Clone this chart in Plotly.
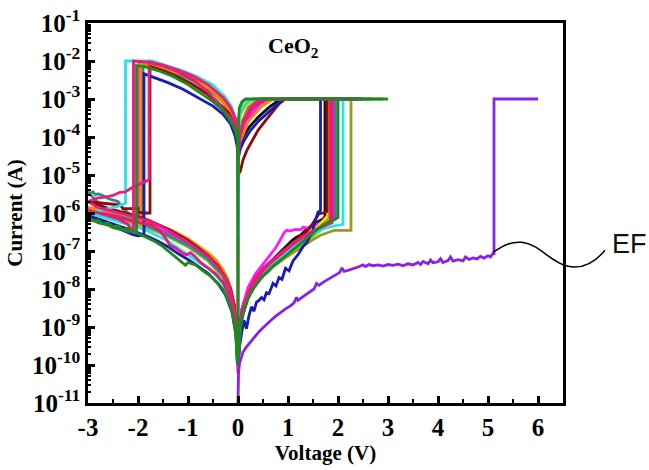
import plotly.graph_objects as go

# ---------------- data: (voltage V, current A) ----------------
black = [(0.0,1e-10),(0.03,8e-10),(0.08,3e-9),(0.15,6e-9),(0.3,1.5e-8),(0.45,2.8e-8),(0.6,4.5e-8),(0.75,7e-8),(0.9,1.1e-7),(1.0,1.4e-7),(1.1,2e-7),(1.17,2.3e-7),(1.25,2.6e-7),(1.35,3.5e-7),(1.45,4.5e-7),(1.55,5.5e-7),(1.7,7e-7),(1.74,8e-7),
         (1.74,1e-3),(2.3,1e-3),(0.85,1e-3),(0.62,6e-4),(0.4,3.3e-4),(0.22,1.8e-4),(0.1,1e-4),(0.03,6e-5),
         (-0.02,1.3e-4),(-0.1,3.5e-4),(-0.3,9e-4),(-0.6,2e-3),(-1.0,3.8e-3),(-1.4,5.8e-3),(-1.8,7.6e-3),(-1.92,8e-3),
         (-1.92,5e-7),(-2.3,7e-7),(-2.7,1e-6),(-3.0,1.2e-6),(-2.6,8.5e-7),(-2.2,6.3e-7),(-1.8,4.6e-7),(-1.4,2.9e-7),(-1.0,1.5e-7),(-0.7,8e-8),(-0.4,3.6e-8),(-0.2,1.5e-8),(-0.08,4e-9),(-0.02,6e-10),(0.0,1e-10)]

magenta = [(0.0,1e-10),(0.03,1e-9),(0.08,3e-9),(0.2,1.1e-8),(0.35,2.5e-8),(0.5,4.5e-8),(0.65,8e-8),(0.75,1.2e-7),(0.85,2e-7),(0.92,3e-7),(0.97,3.5e-7),(1.05,3.4e-7),(1.15,3.7e-7),(1.25,3.6e-7),(1.3,4.2e-7),(1.4,4e-7),(1.5,4.6e-7),(1.6,5e-7),(1.7,5.6e-7),(1.8,6.2e-7),(1.91,7e-7),
           (1.91,1e-3),(2.7,1e-3),(0.65,1e-3),(0.45,7.6e-4),(0.28,4.2e-4),(0.15,2.5e-4),(0.08,1.3e-4),(0.03,5.5e-5),(0.01,4e-5),
           (-0.02,1.5e-4),(-0.1,4e-4),(-0.3,1e-3),(-0.6,2.2e-3),(-1.0,4e-3),(-1.4,6e-3),(-1.8,8e-3),(-1.98,8.5e-3),
           (-1.98,6e-7),(-2.3,8e-7),(-2.7,1.1e-6),(-3.0,1.3e-6),(-2.6,9.5e-7),(-2.2,7e-7),(-1.8,5e-7),(-1.4,3e-7),(-1.0,1.6e-7),(-0.7,8e-8),(-0.4,3.5e-8),(-0.2,1.4e-8),(-0.08,4e-9),(-0.02,5e-10),(0.0,1e-10)]

yellow = [(0.0,1e-10),(0.04,8e-10),(0.1,2.5e-9),(0.17,6e-9),(0.3,1.2e-8),(0.45,2e-8),(0.6,3e-8),(0.75,4.5e-8),(0.9,6.5e-8),(1.05,1e-7),(1.2,1.5e-7),(1.35,2.2e-7),(1.5,3.2e-7),(1.6,4.5e-7),(1.7,6.5e-7),(1.78,8e-7),(1.86,9e-7),
          (1.86,1e-3),(2.3,1e-3),(0.5,1e-3),(0.35,7e-4),(0.2,4e-4),(0.08,2e-4),(0.02,8e-5),
          (-0.02,1.2e-4),(-0.1,3e-4),(-0.3,8e-4),(-0.6,1.8e-3),(-1.0,3.5e-3),(-1.4,5.4e-3),(-1.8,7.2e-3),(-1.9,7.5e-3),
          (-1.9,5e-7),(-2.4,7e-7),(-3.0,1e-6),(-2.5,7.5e-7),(-2.0,5e-7),(-1.5,2.8e-7),(-1.0,1.3e-7),(-0.6,5.5e-8),(-0.3,2e-8),(-0.12,6e-9),(-0.03,8e-10),(0.0,1e-10)]

olive = [(0.0,1e-10),(0.05,1.2e-9),(0.15,4.5e-9),(0.3,1.1e-8),(0.5,2.2e-8),(0.7,3.8e-8),(0.9,6e-8),(1.1,9e-8),(1.3,1.4e-7),(1.5,2e-7),(1.65,2.6e-7),(1.78,3e-7),(1.86,3.3e-7),(1.92,3.5e-7),(2.1,3.5e-7),(2.26,3.5e-7),
         (2.26,1e-3),(2.9,1e-3),(0.4,1e-3),(0.2,6e-4),(0.08,2.5e-4),(0.02,8e-5),
         (-0.02,1.2e-4),(-0.1,3.2e-4),(-0.3,8.5e-4),(-0.6,1.9e-3),(-1.0,3.6e-3),(-1.4,5.5e-3),(-1.8,7.3e-3),(-1.95,7.8e-3),
         (-1.95,5e-7),(-2.4,7e-7),(-3.0,1e-6),(-2.5,7.5e-7),(-2.0,5e-7),(-1.5,2.8e-7),(-1.0,1.3e-7),(-0.6,5.5e-8),(-0.3,2e-8),(-0.12,6e-9),(-0.03,8e-10),(0.0,1e-10)]

lime = [(0.0,1e-10),(0.05,1.2e-9),(0.15,4.5e-9),(0.3,1.2e-8),(0.5,2.5e-8),(0.7,4.2e-8),(0.9,6.5e-8),(1.1,1e-7),(1.3,1.6e-7),(1.5,2.5e-7),(1.7,4e-7),(1.84,6e-7),
        (1.84,1e-3),(2.2,1e-3),(0.3,1e-3),(0.15,7e-4),(0.05,4e-4),(0.01,2e-4),
        (-0.02,1.4e-4),(-0.1,4e-4),(-0.3,1e-3),(-0.7,2.5e-3),(-1.2,4.8e-3),(-1.7,7e-3),(-1.93,7.8e-3),
        (-1.93,5e-7),(-2.4,7e-7),(-3.0,1e-6),(-2.5,7.5e-7),(-2.0,5e-7),(-1.5,2.8e-7),(-1.0,1.3e-7),(-0.6,5.5e-8),(-0.3,2e-8),(-0.12,6e-9),(-0.03,8e-10),(0.0,1e-10)]

teal = [(0.0,1e-10),(0.05,1.2e-9),(0.2,6e-9),(0.5,2.5e-8),(0.9,7e-8),(1.3,1.7e-7),(1.6,3.5e-7),(1.95,7e-7),
        (1.95,1e-3),(2.4,1e-3),(0.5,1e-3),(0.25,5e-4),(0.08,2e-4),(0.02,8e-5),
        (-0.02,1.3e-4),(-0.1,3.5e-4),(-0.3,9e-4),(-0.7,2.3e-3),(-1.2,4.6e-3),(-1.7,6.8e-3),(-1.9,7.5e-3),
        (-1.9,5.5e-7),(-2.1,8e-7),(-2.3,1.3e-6),(-2.4,2e-6),(-2.5,2.2e-6),(-2.6,2.4e-6),(-2.7,2.9e-6),(-2.8,3.2e-6),(-2.85,3e-6),(-2.9,3.6e-6),(-2.95,3.3e-6),(-3.0,3.6e-6),
        (-2.95,3e-6),(-2.85,2.2e-6),(-2.7,1.5e-6),(-2.5,1.1e-6),(-2.3,8e-7),(-2.0,5.8e-7),(-1.5,3e-7),(-1.0,1.4e-7),(-0.6,6e-8),(-0.3,2.3e-8),(-0.12,6e-9),(-0.03,8e-10),(0.0,1e-10)]

orange = [(0.0,1e-10),(0.05,1.4e-9),(0.2,6e-9),(0.5,2.8e-8),(0.9,8e-8),(1.3,2e-7),(1.6,4e-7),(1.82,7e-7),
          (1.82,1e-3),(2.3,1e-3),(0.7,1e-3),(0.45,6e-4),(0.2,2.5e-4),(0.05,8e-5),
          (-0.02,1.3e-4),(-0.1,3.5e-4),(-0.3,9e-4),(-0.6,2e-3),(-1.0,3.9e-3),(-1.4,6e-3),(-1.75,7.8e-3),(-1.95,8.5e-3),
          (-1.95,5e-7),(-2.2,6e-7),(-2.5,8e-7),(-2.8,1.1e-6),(-3.0,1.4e-6),
          (-2.8,1.3e-6),(-2.5,1.05e-6),(-2.2,8.5e-7),(-1.9,6.5e-7),(-1.6,4.8e-7),(-1.3,3.4e-7),(-1.0,2.1e-7),(-0.8,1.4e-7),(-0.6,9e-8),(-0.45,6e-8),(-0.3,3.2e-8),(-0.2,1.8e-8),(-0.12,8e-9),(-0.06,2.5e-9),(-0.02,5e-10),(0.0,1e-10)]

maroon = [(0.0,1e-10),(0.02,4e-10),(0.05,1.5e-9),(0.1,3e-9),(0.17,5e-9),(0.25,9e-9),(0.37,1.7e-8),(0.5,2.6e-8),(0.64,4.2e-8),(0.8,6.5e-8),(0.97,1.05e-7),(1.1,1.5e-7),(1.2,2.2e-7),(1.3,2.8e-7),(1.4,3.5e-7),(1.48,5e-7),(1.55,7e-7),(1.62,9.5e-7),(1.7,1e-6),(1.78,1.1e-6),
          (1.78,1e-3),(2.5,1e-3),(0.95,1e-3),(0.82,7.4e-4),(0.68,4.5e-4),(0.55,2.7e-4),(0.4,1.5e-4),(0.28,8e-5),(0.18,4.5e-5),(0.1,2.5e-5),(0.05,1.3e-5),(0.0,1e-5),
          (-0.02,1.2e-4),(-0.08,2.5e-4),(-0.2,4.5e-4),(-0.4,8e-4),(-0.6,1.3e-3),(-0.9,2.4e-3),(-1.2,3.8e-3),(-1.5,5.6e-3),(-1.76,7.2e-3),
          (-1.76,1e-6),(-1.9,1e-6),(-2.0,1.05e-6),(-2.0,1.3e-6),(-2.3,1.3e-6),(-2.35,1.6e-6),(-2.5,1.7e-6),(-2.7,1.8e-6),(-2.85,1.9e-6),(-3.0,2e-6),
          (-2.8,1.6e-6),(-2.6,1.35e-6),(-2.4,1.15e-6),(-2.2,9.5e-7),(-2.0,8e-7),(-1.8,6.5e-7),(-1.6,5e-7),(-1.4,3.8e-7),(-1.2,2.7e-7),(-1.0,1.9e-7),(-0.8,1.2e-7),(-0.6,7.5e-8),(-0.4,4e-8),(-0.25,2e-8),(-0.15,1e-8),(-0.07,3.5e-9),(-0.02,6e-10),(0.0,1e-10)]

cyan = [(0.0,1e-10),(0.03,6e-10),(0.1,2.5e-9),(0.2,7e-9),(0.35,1.6e-8),(0.5,2.8e-8),(0.7,5e-8),(0.9,8e-8),(1.1,1.3e-7),(1.3,2e-7),(1.5,2.9e-7),(1.7,3.8e-7),(1.9,4.5e-7),(2.1,5e-7),
        (2.1,1e-3),(2.6,1e-3),(0.3,1e-3),(0.1,8e-4),(0.03,4e-4),(0.01,1.5e-4),(0.0,1e-5),(0.0,2e-7),
        (-0.01,1.2e-4),(-0.05,3e-4),(-0.12,6e-4),(-0.25,1.1e-3),(-0.5,2.3e-3),(-0.8,3.8e-3),(-1.1,5.5e-3),(-1.4,7.2e-3),(-1.6,8.8e-3),(-1.72,1e-2),(-2.25,1e-2),
        (-2.25,1.8e-6),(-2.4,1.5e-6),(-2.6,1.3e-6),(-2.8,1.15e-6),(-3.0,1e-6),
        (-2.8,8.5e-7),(-2.6,7.2e-7),(-2.4,6e-7),(-2.2,5e-7),(-2.0,4.2e-7),(-1.8,3.3e-7),(-1.6,2.5e-7),(-1.4,1.8e-7),(-1.2,1.2e-7),(-1.0,8e-8),(-0.8,5.5e-8),(-0.6,3.5e-8),(-0.4,2e-8),(-0.25,1.1e-8),(-0.12,4e-9),(-0.05,1.2e-9),(-0.01,1e-10)]

blue = [(0.0,1e-10),(0.03,3e-10),(0.08,8e-10),(0.12,1.5e-9),(0.17,9e-10),(0.22,2e-9),(0.27,3.4e-9),(0.32,2.6e-9),(0.37,4.5e-9),(0.42,5e-9),(0.47,6e-9),(0.52,5.2e-9),(0.57,8e-9),(0.62,7.5e-9),(0.7,1.4e-8),(0.76,1.2e-8),(0.82,2e-8),(0.88,1.8e-8),(0.95,3.5e-8),(1.02,3e-8),(1.1,5.5e-8),(1.2,8e-8),(1.3,1.3e-7),(1.38,1.7e-7),(1.45,2.6e-7),(1.5,3.8e-7),(1.55,6.5e-7),(1.6,1.05e-6),(1.65,1.15e-6),
        (1.65,1e-3),(2.4,1e-3),(0.9,1e-3),(0.75,6.5e-4),(0.6,4.3e-4),(0.42,2.7e-4),(0.25,1.5e-4),(0.12,8e-5),(0.05,5e-5),(0.01,3e-5),
        (-0.02,6e-5),(-0.06,1.1e-4),(-0.15,2.2e-4),(-0.3,4e-4),(-0.5,6.5e-4),(-0.8,1.1e-3),(-1.1,1.8e-3),(-1.4,2.7e-3),(-1.7,3.8e-3),(-1.88,4.6e-3),
        (-1.88,2.6e-7),(-2.0,2.5e-7),(-2.1,2.7e-7),(-2.3,3.5e-7),(-2.5,4.6e-7),(-2.7,5.8e-7),(-2.85,7e-7),(-3.0,8.5e-7),
        (-2.8,7e-7),(-2.6,5.8e-7),(-2.4,4.8e-7),(-2.2,3.8e-7),(-2.0,3e-7),(-1.8,2.4e-7),(-1.6,1.8e-7),(-1.4,1.3e-7),(-1.2,8.5e-8),(-1.0,6e-8),(-0.8,4e-8),(-0.6,2.6e-8),(-0.4,1.4e-8),(-0.25,7e-9),(-0.12,2.5e-9),(-0.04,6e-10),(-0.01,1e-10)]

pink1 = [(0.0,2.2e-7),(0.0,6e-11),(0.03,6e-10),(0.1,3e-9),(0.2,8e-9),(0.35,2e-8),(0.5,3.5e-8),(0.7,6e-8),(0.9,1e-7),(1.1,1.6e-7),(1.3,2.4e-7),(1.5,3.4e-7),(1.7,4.5e-7),(1.88,5.5e-7),
         (1.88,1e-3),(2.5,1e-3),(0.55,1e-3),(0.3,6e-4),(0.12,2.5e-4),(0.04,1e-4),(0.0,2e-5),
         (-0.01,1.2e-4),(-0.05,2e-4),(-0.12,3e-4),(-0.22,4e-4),(-0.4,8e-4),(-0.6,1.5e-3),(-0.88,3.1e-3),(-1.2,5.2e-3),(-1.5,7.4e-3),(-1.82,9.4e-3),(-2.09,1e-2),
         (-2.09,3e-7),(-2.2,5e-7),(-2.4,7e-7),(-2.6,8.5e-7),(-2.8,1e-6),(-3.0,1.2e-6),
         (-2.8,1e-6),(-2.6,9e-7),(-2.4,8e-7),(-2.2,6.5e-7),(-2.0,5.8e-7),(-1.8,5e-7),(-1.7,4.6e-7),(-1.55,3.2e-7),(-1.45,2.2e-7),(-1.36,1.4e-7),(-1.25,1.2e-7),(-1.1,8.5e-8),(-1.03,8e-8),(-0.95,9e-8),(-0.85,7e-8),(-0.75,5e-8),(-0.6,3.6e-8),(-0.45,2.5e-8),(-0.3,1.5e-8),(-0.18,7e-9),(-0.08,2e-9),(-0.02,3e-10),(0.0,6e-11)]

pink2 = [(0.0,1e-10),(0.05,1.5e-9),(0.15,5e-9),(0.3,1.3e-8),(0.5,3e-8),(0.7,5.5e-8),(0.9,9e-8),(1.1,1.5e-7),(1.3,2.3e-7),(1.5,3.3e-7),(1.7,4.5e-7),(1.85,5.5e-7),
         (1.85,1e-3),(2.4,1e-3),(0.45,1e-3),(0.25,6e-4),(0.1,2.5e-4),(0.03,8e-5),
         (-0.01,1.5e-4),(-0.05,3e-4),(-0.15,6e-4),(-0.3,1.1e-3),(-0.6,2.4e-3),(-0.9,4e-3),(-1.2,5.8e-3),(-1.5,7.8e-3),(-1.78,9.5e-3),
         (-1.78,7.5e-6),(-1.9,6.3e-6),(-2.03,5.3e-6),(-2.15,4.4e-6),(-2.25,3.6e-6),(-2.36,3.5e-6),(-2.5,2.9e-6),(-2.65,2.6e-6),(-2.8,2.5e-6),(-2.9,2.2e-6),(-3.0,2e-6),
         (-2.8,1.4e-6),(-2.6,1.2e-6),(-2.4,1.05e-6),(-2.2,9e-7),(-2.0,7.5e-7),(-1.8,6.2e-7),(-1.6,4.8e-7),(-1.4,3.5e-7),(-1.2,2.5e-7),(-1.0,1.7e-7),(-0.8,1.1e-7),(-0.6,7e-8),(-0.4,3.7e-8),(-0.25,1.9e-8),(-0.15,9e-9),(-0.07,3e-9),(-0.02,5e-10),(0.0,1e-10)]

green = [(0.0,1e-10),(0.02,3e-10),(0.05,9e-10),(0.1,2.2e-9),(0.2,5.5e-9),(0.3,1e-8),(0.4,1.5e-8),(0.5,2.2e-8),(0.6,2.8e-8),(0.7,4e-8),(0.8,5e-8),(0.9,6.5e-8),(1.0,8e-8),(1.1,1.1e-7),(1.2,1.4e-7),(1.3,1.8e-7),(1.4,2.3e-7),(1.5,3e-7),(1.6,3.8e-7),(1.7,4.8e-7),(1.8,5.6e-7),(1.9,6.5e-7),(2.0,7.6e-7),
         (2.0,1e-3),(3.0,1e-3),(0.15,1e-3),(0.08,8.5e-4),(0.03,6e-4),(0.01,3e-4),(0.0,1e-10),
         (-0.01,8e-5),(-0.05,1.4e-4),(-0.15,2.6e-4),(-0.3,5e-4),(-0.5,8.5e-4),(-0.7,1.3e-3),(-1.0,2.4e-3),(-1.3,3.9e-3),(-1.6,5.6e-3),(-1.85,7e-3),(-2.03,7.6e-3),
         (-2.03,3.5e-7),(-2.1,3.2e-7),(-2.2,4e-7),(-2.3,3.6e-7),(-2.4,4.6e-7),(-2.5,4.3e-7),(-2.6,5.5e-7),(-2.7,5.2e-7),(-2.8,6.5e-7),(-2.9,6.2e-7),(-3.0,7.5e-7),
         (-2.9,6.5e-7),(-2.8,5.6e-7),(-2.7,5.2e-7),(-2.6,4.8e-7),(-2.5,4.1e-7),(-2.4,3.9e-7),(-2.3,3.6e-7),(-2.2,3.3e-7),(-2.1,3.3e-7),(-2.0,2.9e-7),(-1.85,2.4e-7),(-1.7,1.9e-7),(-1.5,1.3e-7),(-1.3,8e-8),(-1.15,5.5e-8),(-1.05,4.2e-8),(-1.0,5e-8),(-0.85,4.3e-8),(-0.7,3e-8),(-0.55,2.2e-8),(-0.45,1.6e-8),(-0.3,1e-8),(-0.2,5e-9),(-0.12,2.5e-9),(-0.05,8e-10),(-0.01,1e-10)]

ef = [(0.0,1e-11),(0.005,3e-11),(0.01,6e-11),(0.03,1.1e-10),(0.06,1.6e-10),(0.1,2.2e-10),(0.17,3e-10),(0.25,4e-10),(0.32,5.5e-10),(0.4,7e-10),(0.48,9e-10),(0.57,1.2e-9),(0.66,1.5e-9),(0.75,1.9e-9),(0.85,2.4e-9),(0.95,3e-9),(1.05,3.6e-9),(1.12,4.3e-9),(1.17,6e-9),(1.2,5e-9),(1.28,6e-9),(1.36,7.2e-9),(1.45,8.8e-9),(1.52,1e-8),(1.57,1.4e-8),(1.62,1.25e-8),(1.7,1.5e-8),(1.8,1.8e-8),(1.9,2.1e-8),(1.97,2.5e-8),(2.03,2.7e-8),(2.08,3.6e-8),(2.12,2.9e-8),(2.2,3.1e-8),(2.3,3.4e-8),(2.4,3.8e-8),(2.5,4.3e-8),(2.55,3.9e-8),(2.62,4.4e-8),(2.7,4.1e-8),(2.8,4.3e-8),(2.9,4e-8),(3.0,4.4e-8),(3.1,4.2e-8),(3.2,4.5e-8),(3.3,4.1e-8),(3.4,4.6e-8),(3.5,4.3e-8),(3.6,5e-8),(3.65,4.4e-8),(3.7,5.3e-8),(3.8,4.6e-8),(3.85,5.8e-8),(3.9,4.9e-8),(4.0,5.2e-8),(4.05,6.3e-8),(4.1,5e-8),(4.2,5.6e-8),(4.25,7e-8),(4.3,5.4e-8),(4.4,5.9e-8),(4.5,5.5e-8),(4.55,7e-8),(4.62,6e-8),(4.7,6.6e-8),(4.78,6.2e-8),(4.85,7.2e-8),(4.92,6.5e-8),(5.0,7.5e-8),(5.05,7e-8),(5.1,8.6e-8),(5.12,8.6e-8),
      (5.12,1e-3),(6.0,1e-3)]

series = [
    (black, "#111111"), (magenta, "#ff1aff"), (yellow, "#f2ea00"), (olive, "#9c9a1c"),
    (lime, "#78d21e"), (teal, "#2e8c8c"), (orange, "#f28a00"), (maroon, "#8c0c0c"),
    (cyan, "#2ae2ea"), (blue, "#1a1ab8"), (pink1, "#e81a78"), (pink2, "#ea1c7c"),
    (green, "#1e8a1e"), (ef, "#8a22e6"),
]

x_ticks = [-3, -2, -1, 0, 1, 2, 3, 4, 5, 6]
x_ticktext = ["-3", "-2", "-1", "0", "1", "2", "3", "4", "5", "6"]
y_exps = list(range(-11, 0))
y_ticks = [10.0 ** e for e in y_exps]
y_ticktext = ["10<sup>%d</sup>" % e for e in y_exps]

fig = go.Figure()
for pts, col in series:
    fig.add_trace(go.Scatter(
        x=[p[0] for p in pts], y=[p[1] for p in pts], mode="lines",
        line=dict(color=col, width=2.8), hoverinfo="skip", showlegend=False))

serif_b = dict(family="Liberation Serif", color="black", weight="bold")

fig.update_layout(
    width=649, height=470,
    margin=dict(l=88, r=86, t=23, b=67),
    paper_bgcolor="white", plot_bgcolor="white",
    showlegend=False,
    xaxis=dict(
        range=[-3, 6.5], tickmode="array", tickvals=x_ticks, ticktext=x_ticktext,
        ticks="inside", ticklen=7, tickwidth=2.5, tickcolor="black",
        showline=True, linewidth=2.5, linecolor="black", mirror=True,
        showgrid=False, zeroline=False, automargin=False,
        tickfont=dict(size=25, **serif_b),
        minor=dict(ticks="inside", ticklen=4, tickwidth=2, dtick=0.5, tickcolor="black", showgrid=False),
        title=dict(text="Voltage (V)", font=dict(size=21, **serif_b), standoff=6),
    ),
    yaxis=dict(
        type="log", range=[-11, -1], tickmode="array", tickvals=y_ticks, ticktext=y_ticktext,
        ticks="inside", ticklen=7, tickwidth=2.5, tickcolor="black",
        showline=True, linewidth=2.5, linecolor="black", mirror=True,
        showgrid=False, zeroline=False, automargin=False,
        tickfont=dict(size=25, **serif_b),
        minor=dict(ticks="inside", ticklen=3.5, tickwidth=1.5, dtick="D1", tickcolor="black", showgrid=False),
        title=dict(text="Current (A)", font=dict(size=21, **serif_b), standoff=4),
    ),
)

fig.add_annotation(text="CeO<sub>2</sub>", xref="paper", yref="paper", x=0.432, y=0.937,
                   xanchor="center", yanchor="middle", showarrow=False,
                   font=dict(size=22, **serif_b))

# EF label with wavy connector (layout positions in pixels -> paper)
L, R, T, B = 88, 563, 22.7, 402.7
def px(xp, yp):
    return "%.4f,%.4f" % ((xp - L) / (R - L), (B - yp) / (B - T))

wave = ("M " + px(493, 252) +
        " C " + px(505, 244) + " " + px(512, 241) + " " + px(522, 242) +
        " C " + px(540, 244) + " " + px(550, 262) + " " + px(568, 266) +
        " C " + px(582, 269) + " " + px(595, 262) + " " + px(605, 250))
fig.add_shape(type="path", path=wave, xref="paper", yref="paper",
              line=dict(color="black", width=1.5), layer="above")
fig.add_annotation(text="EF", xref="paper", yref="paper",
                   x=(610 - L) / (R - L), y=(B - 244) / (B - T),
                   xanchor="left", yanchor="middle", showarrow=False,
                   font=dict(family="Liberation Sans", size=27, color="#111111"))

fig.write_html("out.html")
